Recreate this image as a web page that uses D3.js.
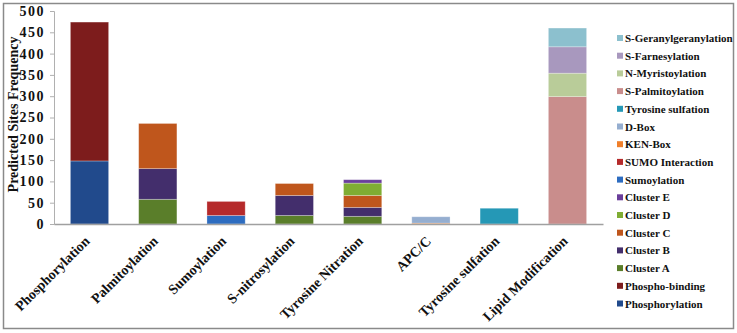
<!DOCTYPE html>
<html>
<head>
<meta charset="utf-8">
<script src="https://cdn.jsdelivr.net/npm/d3@7"></script>
<style>
  body { margin:0; background:#fff; }
  text { font-family:"Liberation Serif","Times New Roman",serif; font-weight:bold; }
</style>
</head>
<body>
<svg></svg>
<script>

var categories = ["Phosphorylation","Palmitoylation","Sumoylation","S-nitrosylation",
                  "Tyrosine Nitration","APC/C","Tyrosine sulfation","Lipid Modification"];

// one array per series, values per category (bottom to top stacking order)
var phosphorylation      = [148,0,0,0,0,0,0,0];
var phosphoBinding       = [326,0,0,0,0,0,0,0];
var clusterA             = [0,58,0,20,18,0,0,0];
var clusterB             = [0,72,0,47,21,0,0,0];
var clusterC             = [0,106,0,28,28,0,0,0];
var clusterD             = [0,0,0,0,29,0,0,0];
var clusterE             = [0,0,0,0,8,0,0,0];
var sumoylation          = [0,0,20,0,0,0,0,0];
var sumoInteraction      = [0,0,33,0,0,0,0,0];
var kenBox               = [0,0,0,0,0,2,0,0];
var dBox                 = [0,0,0,0,0,15,0,0];
var tyrosineSulfation    = [0,0,0,0,0,0,37,0];
var sPalmitoylation      = [0,0,0,0,0,0,0,299];
var nMyristoylation      = [0,0,0,0,0,0,0,55];
var sFarnesylation       = [0,0,0,0,0,0,0,62];
var sGeranylgeranylation = [0,0,0,0,0,0,0,44];

var seriesNames = ["Phosphorylation","Phospho-binding","Cluster A","Cluster B","Cluster C",
                   "Cluster D","Cluster E","Sumoylation","SUMO Interaction","KEN-Box","D-Box",
                   "Tyrosine sulfation","S-Palmitoylation","N-Myristoylation","S-Farnesylation",
                   "S-Geranylgeranylation"];
var seriesValues = [phosphorylation,phosphoBinding,clusterA,clusterB,clusterC,clusterD,clusterE,
                    sumoylation,sumoInteraction,kenBox,dBox,tyrosineSulfation,sPalmitoylation,
                    nMyristoylation,sFarnesylation,sGeranylgeranylation];
var seriesColors = ["#214a8c","#7d1c1c","#5a7e2a","#432e6c","#bf561c","#7fad33","#6a3e9b",
                    "#2d6cc0","#b52a2b","#f07f2a","#95aed0","#2598b6","#c98d8c","#b9cc99",
                    "#a898be","#8cc0ce"];

var yTicks = [0,50,100,150,200,250,300,350,400,450,500];

var screen = {width:737, height:333};
var margins = {top:11, left:54, bottom:109, right:134};
var width = screen.width - margins.left - margins.right;
var height = screen.height - margins.top - margins.bottom;

// build rows for the stack
var rows = categories.map(function(c,i){
  var r = {category:c};
  seriesNames.forEach(function(s,j){ r[s] = seriesValues[j][i]; });
  return r;
});
var stacked = d3.stack().keys(seriesNames)(rows);

var xScale = d3.scaleBand()
  .domain(categories)
  .range([0,width])
  .paddingInner(0.44)
  .paddingOuter(0.24);

var yScale = d3.scaleLinear()
  .domain([0,500])
  .range([height,0]);

var color = d3.scaleOrdinal().domain(seriesNames).range(seriesColors);

var svg = d3.select("svg").attr("width",screen.width).attr("height",screen.height);

// outer frame
svg.append("rect")
  .attr("x",3.5).attr("y",3.5)
  .attr("width",screen.width-7).attr("height",screen.height-8)
  .attr("fill","none").attr("stroke","#8a8a8a").attr("stroke-width",1.5);

var plot = svg.append("g")
  .attr("transform","translate("+margins.left+","+margins.top+")");

plot.selectAll("g.layer")
  .data(stacked)
  .enter()
  .append("g")
  .attr("class","layer")
  .attr("fill",function(d){ return color(d.key); })
  .selectAll("rect")
  .data(function(d){ return d.filter(function(p){ return p[1]-p[0] > 0; }); })
  .enter()
  .append("rect")
  .attr("x",function(d){ return xScale(d.data.category); })
  .attr("width",xScale.bandwidth())
  .attr("y",function(d){ return yScale(d[1]); })
  .attr("height",function(d){ return yScale(d[0]) - yScale(d[1]); })
  .attr("stroke","rgba(255,255,255,0.35)")
  .attr("stroke-width",0.8);

// y axis
var yAxis = d3.axisLeft(yScale).tickValues(yTicks).tickSize(4).tickPadding(5);
var yg = plot.append("g").call(yAxis);
yg.select(".domain").attr("stroke","#b0b0b0");
yg.selectAll(".tick line").attr("stroke","#b0b0b0");
yg.selectAll(".tick text")
  .attr("fill","#111")
  .style("font-size","14px")
  .style("letter-spacing","1.5px");

// x axis
var xAxis = d3.axisBottom(xScale).tickSize(0).tickSizeOuter(0);
var xg = plot.append("g").attr("transform","translate(0,"+height+")").call(xAxis);
xg.select(".domain").attr("stroke","#a0a0a0").attr("stroke-width",1.5);
xg.selectAll(".tick text")
  .attr("fill","#111")
  .style("font-size","14px")
  .attr("text-anchor","end")
  .attr("dy","0")
  .attr("y",0)
  .attr("transform","translate(1,18) rotate(-45)");

// y axis title
svg.append("text")
  .attr("transform","translate(18,"+(margins.top+height/2-3)+") rotate(-90)")
  .attr("text-anchor","middle")
  .style("font-size","14px")
  .attr("fill","#111")
  .text("Predicted Sites Frequency");

// legend, reversed so the top of the stack is listed first
var legend = svg.append("g").attr("transform","translate(617,38)");
var items = legend.selectAll("g")
  .data(seriesNames.slice().reverse())
  .enter()
  .append("g")
  .attr("transform",function(d,i){ return "translate(0,"+(i*17.7)+")"; });
items.append("rect")
  .attr("x",0).attr("y",-3)
  .attr("width",6).attr("height",6)
  .attr("fill",function(d){ return color(d); });
items.append("text")
  .attr("x",8).attr("y",4)
  .style("font-size","11px")
  .attr("fill","#111")
  .text(function(d){ return d; });

</script>
</body>
</html>
